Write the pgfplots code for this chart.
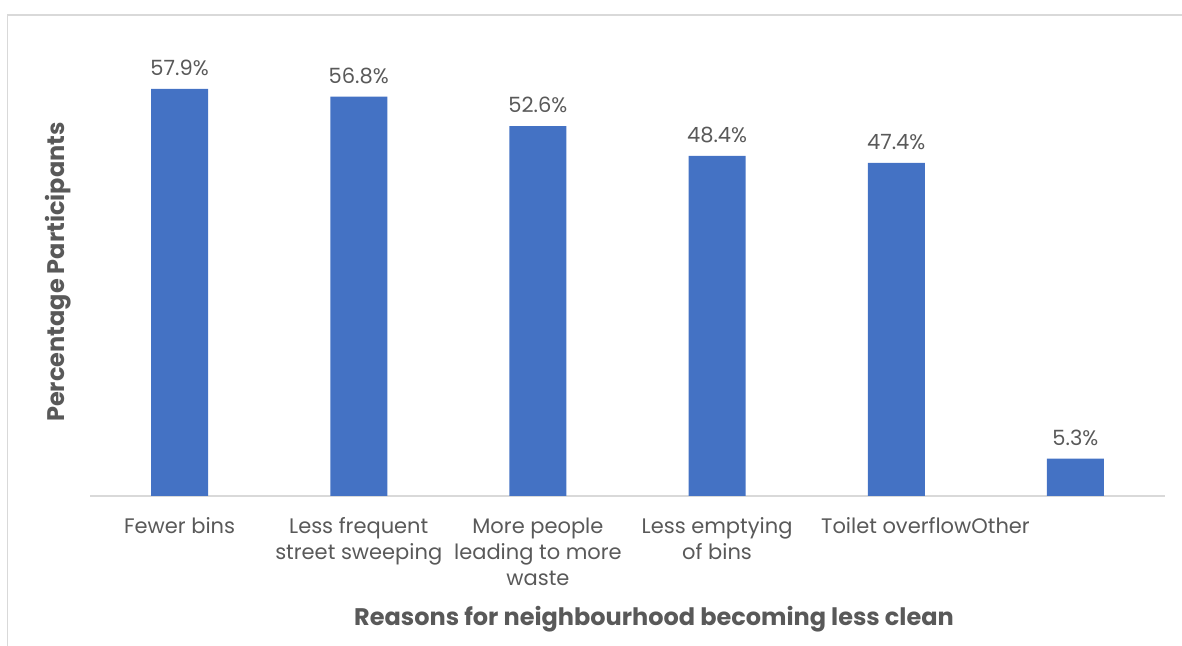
\documentclass[border=0pt]{standalone}
\usepackage{pgfplots}
\pgfplotsset{compat=1.18}
\usepackage{fontspec}
\setmainfont{Poppins}
\definecolor{barblue}{HTML}{4472C4}
\definecolor{txtgray}{HTML}{595959}
\definecolor{linegray}{HTML}{D9D9D9}
\begin{document}
\begin{tikzpicture}
\path[use as bounding box] (0pt,0pt) rectangle (591pt,323pt);
\draw[linegray,line width=0.9pt] (3.75pt,0pt) -- (3.75pt,315.5pt) -- (591pt,315.5pt);
\begin{axis}[
  at={(45pt,75pt)}, anchor=south west,
  width=537.5pt, height=210.9pt, scale only axis,
  ymin=0, ymax=60, xmin=-0.5, xmax=5.5,
  axis y line=none, axis x line*=bottom,
  x axis line style={linegray, line width=1pt, -},
  xtick=data, xtick style={draw=none},
  xticklabels={Fewer bins, Less frequent\\street sweeping, More people\\leading to more\\waste, Less emptying\\of bins, Toilet overflow\rlap{Other}, {}},
  xticklabel style={align=center, font=\fontsize{10.5}{13}\selectfont, text=txtgray, yshift=-3pt},
  ybar, bar width=28.5pt,
  clip=false,
  /pgf/number format/assume math mode=true,
  nodes near coords={\pgfmathprintnumber[fixed,fixed zerofill,precision=1,assume math mode=true]{\pgfplotspointmeta}\%},
  nodes near coords style={font=\fontsize{10.5}{12}\selectfont, text=txtgray, yshift=3pt},
]
\addplot[fill=barblue, draw=none] coordinates {(0,57.9) (1,56.8) (2,52.6) (3,48.4) (4,47.4) (5,5.3)};
\end{axis}
\node[rotate=90, font=\bfseries\fontsize{12}{14}\selectfont, text=txtgray] at (29pt,187pt) {Percentage Participants};
\node[font=\bfseries\fontsize{12}{14}\selectfont, text=txtgray] at (327pt,13.5pt) {Reasons for neighbourhood becoming less clean};
\end{tikzpicture}
\end{document}
